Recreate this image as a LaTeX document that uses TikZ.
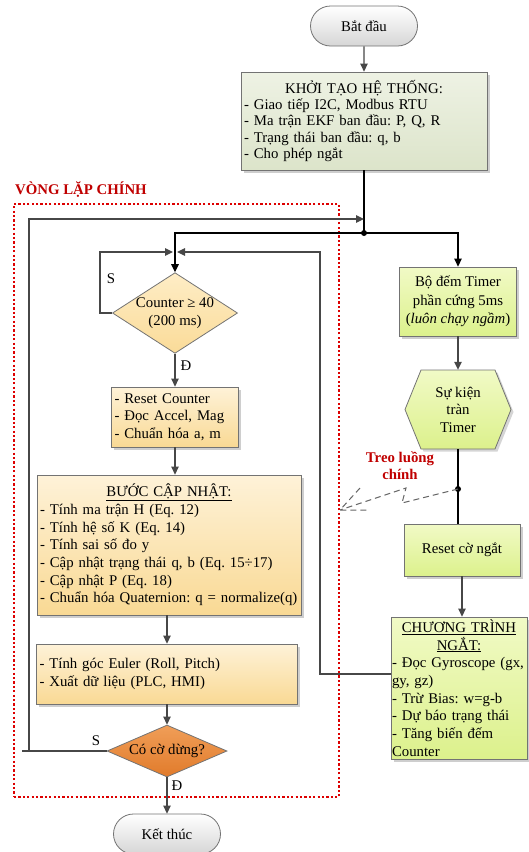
\documentclass[tikz,border=0pt]{standalone}
\usepackage{fontspec}
\setmainfont{Liberation Serif}
\usetikzlibrary{shapes.geometric,shapes.misc,arrows.meta,shadows}
\definecolor{initA}{HTML}{EEF2E4}
\definecolor{initB}{HTML}{DCE4CA}
\definecolor{orgA}{HTML}{FEF2D8}
\definecolor{orgB}{HTML}{F9D994}
\definecolor{decA}{HTML}{FEEDC6}
\definecolor{decB}{HTML}{FADB98}
\definecolor{stopA}{HTML}{F09E58}
\definecolor{stopB}{HTML}{E17B2B}
\definecolor{grnA}{HTML}{F1FAC6}
\definecolor{grnB}{HTML}{DCF18C}
\definecolor{loopred}{HTML}{C00000}
\definecolor{framered}{HTML}{DD0000}
\frenchspacing
\begin{document}
\begin{tikzpicture}[x=1pt,y=-1pt,
txt/.style={font=\fontsize{14.8}{17.7}\selectfont},
box shadow/.style={drop shadow={shadow xshift=2.5pt,shadow yshift=-2.5pt,opacity=.35,fill=black!55}},
term node/.style={txt,rounded rectangle,draw=black!55,line width=.8pt,top color=white,bottom color=black!16,minimum width=107pt,minimum height=40pt,inner sep=0pt},
init node/.style={txt,rectangle,draw=black!55,line width=.8pt,top color=initA,bottom color=initB,box shadow,align=left,inner ysep=0pt},
main node/.style={txt,rectangle,draw=black!55,line width=.8pt,top color=orgA,bottom color=orgB,box shadow,align=left,inner ysep=0pt},
side node/.style={txt,rectangle,draw=black!55,line width=.8pt,top color=grnA,bottom color=grnB,box shadow,inner ysep=0pt},
test node/.style={txt,diamond,draw=black!55,line width=.8pt,align=center,inner sep=0pt},
conn/.style={draw=black!72,line width=1.2pt},
arr/.style={conn,-{Triangle[length=8pt,width=7.5pt]}},
bolt/.style={draw=black!60,line width=1pt,dash pattern=on 6pt off 4pt}]
\useasboundingbox (0,0) rectangle (528,852);
% khung vong lap chinh
\node[draw=framered,line width=2pt,dash pattern=on 2.2pt off 2.2pt,minimum width=325pt,minimum height=593pt,inner sep=0pt] (mainloop) at (176.5,500.5) {};
\node[txt,font=\fontsize{14.8}{17}\selectfont\bfseries,text=loopred,anchor=west,inner sep=0pt] (looplbl) at (15,190) {VÒNG LẶP CHÍNH};
\begin{scope}
\node[term node] (start) at (364,26) {Bắt đầu};%1
\node[init node,text width=240pt,inner xsep=3pt,minimum height=98pt,font=\fontsize{14.8}{16.3}\selectfont] (init) at (364,121) {\makebox[240pt]{KHỞI TẠO HỆ THỐNG:}\\- Giao tiếp I2C, Modbus RTU\\- Ma trận EKF ban đầu: P, Q, R\\- Trạng thái ban đầu: q, b\\- Cho phép ngắt};%2
\node[test node,top color=decA,bottom color=decB,shape aspect=1.55,minimum width=124pt,minimum height=80pt,font=\fontsize{14.8}{17.4}\selectfont] (dec1) at (175,313) {Counter ≥ 40\\(200 ms)};%3
\node[main node,text width=121pt,inner xsep=3pt,minimum height=60pt] (rstc) at (175,417) {- Reset Counter\\- Đọc Accel, Mag\\- Chuẩn hóa a, m};%4
\node[main node,text width=258pt,inner xsep=3pt,minimum height=140pt] (update) at (169,545) {\makebox[258pt]{\underline{BƯỚC CẬP NHẬT:}}\\- Tính ma trận H (Eq. 12)\\- Tính hệ số K (Eq. 14)\\- Tính sai số đo y\\- Cập nhật trạng thái q, b (Eq. 15÷17)\\- Cập nhật P (Eq. 18)\\\mbox{- Chuẩn hóa Quaternion: q = normalize(q)}};%5
\node[main node,text width=255pt,inner xsep=3pt,minimum height=60pt,font=\fontsize{14.8}{18}\selectfont] (euler) at (167,674) {- Tính góc Euler (Roll, Pitch)\\- Xuất dữ liệu (PLC, HMI)};%6
\node[test node,top color=stopA,bottom color=stopB,shape aspect=2.4,minimum width=120pt,minimum height=52pt] (dec2) at (167,751) {Có cờ dừng?};%7
\node[term node] (stop) at (167,834) {Kết thúc};%8
\node[side node,align=center,minimum width=117pt,minimum height=69pt,font=\fontsize{14.8}{18.3}\selectfont] (timer) at (458,301.5) {Bộ đếm Timer\\phần cứng 5ms\\(\textit{luôn chạy ngầm})};%9
\draw[line width=.8pt,draw=black!55,top color=grnA,bottom color=grnB,drop shadow={shadow xshift=2.5pt,shadow yshift=-2.5pt,opacity=.3,fill=black!55}] (405,409.5) -- (421,370) -- (495,370) -- (511,409.5) -- (495,449) -- (421,449) -- cycle;
\node[txt,align=center,minimum width=106pt,minimum height=79pt,inner sep=0pt,font=\fontsize{14.8}{17.5}\selectfont] (ovf) at (458,409.5) {Sự kiện\\tràn\\Timer};%10
\node[side node,align=center,minimum width=116pt,minimum height=52pt] (rstf) at (462,550) {Reset cờ ngắt};%11
\node[side node,align=left,text width=134pt,inner xsep=1pt,minimum height=142pt] (isr) at (459,688) {\makebox[134pt]{\underline{CHƯƠNG TRÌNH}}\\\makebox[134pt]{\underline{NGẮT:}}\\- Đọc Gyroscope (gx,\\gy, gz)\\- Trừ Bias: w=g-b\\- Dự báo trạng thái\\- Tăng biến đếm\\Counter};%12
\end{scope}
% nhan
\node[txt] (s1) at (111,279) {S};
\node[txt] (d1) at (186,366) {Đ};
\node[txt] (s2) at (96,741) {S};
\node[txt] (d2) at (177,786) {Đ};
\node[txt,font=\fontsize{14.8}{17}\selectfont\bfseries,text=loopred,align=center] (hang) at (400,466) {Treo luồng\\chính};
% diem noi
\coordinate (jn) at (364,233);
\coordinate (loopin) at (364,219);
\coordinate (mL) at (173,252);
\coordinate (mR) at (177,252);
\coordinate (irq) at (458,489);
\coordinate (isrout) at (391,674);
\coordinate (hangtip) at (340,510);
\begin{scope}[every edge/.style={arr}]
\draw (start) edge (init);
\draw (dec1) edge (rstc);
\draw (rstc.south) edge (rstc.south |- update.north);
\draw (euler.north |- update.south) edge (euler.north);
\draw (euler) edge (dec2);
\draw (dec2) edge (stop);
\draw (timer) edge (timer.south |- ovf.north);
\draw (rstf.south) edge (rstf.south |- isr.north);
\end{scope}
\draw[conn,draw=black] (init.south) -- (jn);
\draw[arr,draw=black] (jn) -| (dec1.north);
\draw[arr,draw=black] (jn) -| (timer.north);
\draw[conn,draw=black] (ovf.south) -- (ovf.south |- rstf.north);
\draw[arr] (dec1.west) -- (100,313) |- (mL);
\draw[arr] (isrout) -| (320,252) -- (mR);
\draw[arr] (dec2.west) -- (22,751) (29,751) -- (29,219) -- (loopin);
\fill (jn) circle (3pt);
\fill (irq) circle (3pt);
% treo luong chinh
\draw[bolt] (irq) -- (402,503) -- (406,488) -- (hangtip);
\draw[bolt] (360,488) -- (hangtip) -- (370,510);
\end{tikzpicture}
\end{document}
